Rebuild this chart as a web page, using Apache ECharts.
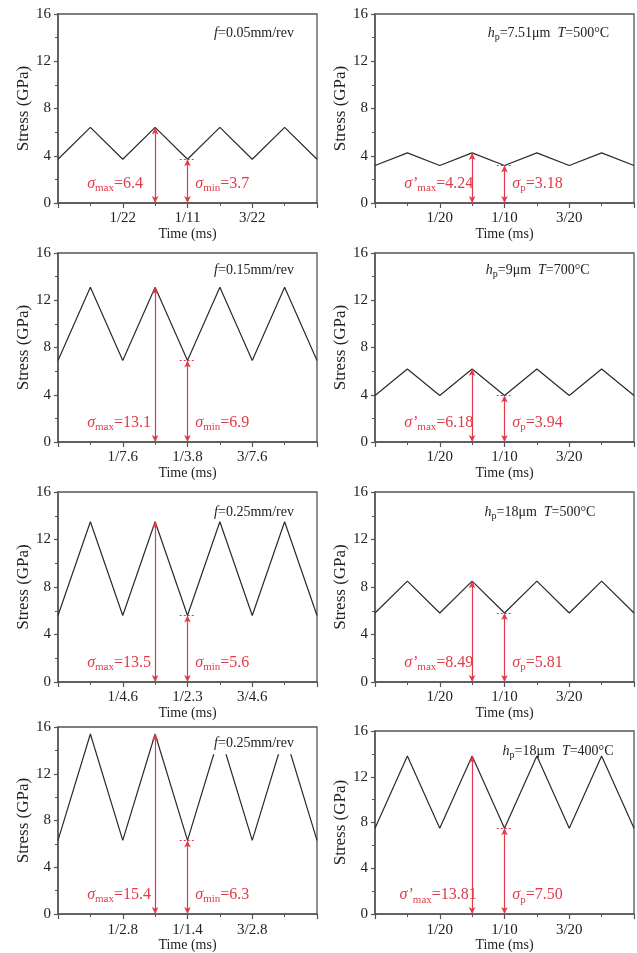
<!DOCTYPE html>
<html>
<head>
<meta charset="utf-8">
<script src="https://cdn.jsdelivr.net/npm/echarts@6/dist/echarts.min.js"></script>
<style>
  html, body { margin: 0; padding: 0; background: #fff; }
  #chart { width: 637px; height: 953px; }
</style>
</head>
<body>
<div id="chart"></div>
<script>
// Time positions of peaks and troughs, in units of the first labelled tick
const timeSteps = [0, 0.5, 1, 1.5, 2, 2.5, 3, 3.5, 4];

// Left column: feed rate f
const stressF005 = [3.7, 6.4, 3.7, 6.4, 3.7, 6.4, 3.7, 6.4, 3.7];
const stressF015 = [6.9, 13.1, 6.9, 13.1, 6.9, 13.1, 6.9, 13.1, 6.9];
const stressF025a = [5.6, 13.5, 5.6, 13.5, 5.6, 13.5, 5.6, 13.5, 5.6];
const stressF025b = [6.3, 15.4, 6.3, 15.4, 6.3, 15.4, 6.3, 15.4, 6.3];

// Right column: h_p and T
const stressH751 = [3.18, 4.24, 3.18, 4.24, 3.18, 4.24, 3.18, 4.24, 3.18];
const stressH9 = [3.94, 6.18, 3.94, 6.18, 3.94, 6.18, 3.94, 6.18, 3.94];
const stressH18a = [5.81, 8.49, 5.81, 8.49, 5.81, 8.49, 5.81, 8.49, 5.81];
const stressH18b = [7.50, 13.81, 7.50, 13.81, 7.50, 13.81, 7.50, 13.81, 7.50];

// x tick labels at 1, 2, 3
const ticksF005 = ['1/22', '1/11', '3/22'];
const ticksF015 = ['1/7.6', '1/3.8', '3/7.6'];
const ticksF025a = ['1/4.6', '1/2.3', '3/4.6'];
const ticksF025b = ['1/2.8', '1/1.4', '3/2.8'];
const ticksH = ['1/20', '1/10', '3/20'];

// values written next to the arrows
const maxTexts = ['6.4', '4.24', '13.1', '6.18', '13.5', '8.49', '15.4', '13.81'];
const minTexts = ['3.7', '3.18', '6.9', '3.94', '5.6', '5.81', '6.3', '7.50'];

// panel titles
const titlesLeft = ['0.05', '0.15', '0.25', '0.25'];
const titlesRight = [['7.51', '500'], ['9', '700'], ['18', '500'], ['18', '400']];

const panels = [
  { data: stressF005, ticks: ticksF005, side: 'L', row: 0 },
  { data: stressH751, ticks: ticksH, side: 'R', row: 0 },
  { data: stressF015, ticks: ticksF015, side: 'L', row: 1 },
  { data: stressH9, ticks: ticksH, side: 'R', row: 1 },
  { data: stressF025a, ticks: ticksF025a, side: 'L', row: 2 },
  { data: stressH18a, ticks: ticksH, side: 'R', row: 2 },
  { data: stressF025b, ticks: ticksF025b, side: 'L', row: 3 },
  { data: stressH18b, ticks: ticksH, side: 'R', row: 3 }
];

// layout
const colLeft = { L: 58, R: 375 };
const colWidth = { L: 259, R: 260 };
const rowTop = { L: [14, 253, 492, 727], R: [14, 253, 492, 731] };
const rowHeight = [189, 189, 190, 190];
const titlePos = {
  L: [[2.38, 14.4], [2.38, 14.5], [2.38, 14.3], [2.38, 14.6]],
  R: [[1.71, 14.4], [1.68, 14.5], [1.66, 14.3], [1.94, 14.2]]
};
const maxLabelX = [0.45, 0.45, 0.45, 0.45, 0.45, 0.45, 0.45, 0.38];

const RED = '#e23a48';
const AXIS = '#555';
const FONT = '"Liberation Serif", "Times New Roman", serif';

const rich = {
  s: { fontFamily: FONT, fontSize: 16, fontStyle: 'italic', color: RED, lineHeight: 20 },
  sub: { fontFamily: FONT, fontSize: 11, color: RED, verticalAlign: 'bottom', lineHeight: 10 },
  n: { fontFamily: FONT, fontSize: 16, color: RED, lineHeight: 20 },
  ti: { fontFamily: FONT, fontSize: 14, fontStyle: 'italic', color: '#222', lineHeight: 18 },
  tsub: { fontFamily: FONT, fontSize: 10, color: '#222', verticalAlign: 'bottom', lineHeight: 9 },
  tn: { fontFamily: FONT, fontSize: 14, color: '#222', lineHeight: 18 }
};

const grids = [], xAxes = [], yAxes = [], series = [];

panels.forEach((p, i) => {
  const top = rowTop[p.side][p.row];
  const height = rowHeight[p.row];
  grids.push({
    left: colLeft[p.side], top: top, width: colWidth[p.side], height: height,
    show: true, borderColor: AXIS, borderWidth: 1.3, backgroundColor: 'transparent'
  });
  xAxes.push({
    gridIndex: i, type: 'value', min: 0, max: 4, interval: 1,
    name: 'Time (ms)', nameLocation: 'middle', nameGap: 18,
    nameTextStyle: { fontFamily: FONT, fontSize: 14, color: '#222' },
    axisLine: { lineStyle: { color: AXIS, width: 1.5 } },
    axisTick: { length: 5, lineStyle: { color: AXIS, width: 1.2 } },
    minorTick: { show: true, splitNumber: 2, length: 3, lineStyle: { color: AXIS, width: 1 } },
    splitLine: { show: false },
    axisLabel: {
      fontFamily: FONT, fontSize: 15, color: '#222', margin: 8,
      formatter: v => (v >= 1 && v <= 3 ? p.ticks[v - 1] : '')
    }
  });
  yAxes.push({
    gridIndex: i, type: 'value', min: 0, max: 16, interval: 4,
    name: 'Stress (GPa)', nameLocation: 'middle', nameGap: 23,
    nameTextStyle: { fontFamily: FONT, fontSize: 17, color: '#222' },
    axisLine: { show: true, lineStyle: { color: AXIS, width: 1.5 } },
    axisTick: { show: true, length: 4, lineStyle: { color: AXIS, width: 1.2 } },
    minorTick: { show: true, splitNumber: 2, length: 3, lineStyle: { color: AXIS, width: 1 } },
    splitLine: { show: false },
    axisLabel: { fontFamily: FONT, fontSize: 15, color: '#222', margin: 7 }
  });

  const vmax = Math.max(...p.data);
  const vmin = Math.min(...p.data);
  const isLeft = p.side === 'L';
  const maxLabel = isLeft
    ? '{s|σ}{sub|max}{n|=' + maxTexts[i] + '}'
    : '{s|σ’}{sub|max}{n|=' + maxTexts[i] + '}';
  const minLabel = isLeft
    ? '{s|σ}{sub|min}{n|=' + minTexts[i] + '}'
    : '{s|σ}{sub|p}{n|=' + minTexts[i] + '}';
  let title;
  if (isLeft) {
    title = '{ti|f}{tn|=' + titlesLeft[p.row] + 'mm/rev}';
  } else {
    const t = titlesRight[p.row];
    title = '{ti|h}{tsub|p}{tn|=' + t[0] + 'μm  }{ti|T}{tn|=' + t[1] + '°C}';
  }
  const tp = titlePos[p.side][p.row];

  series.push({
    type: 'line', xAxisIndex: i, yAxisIndex: i,
    data: timeSteps.map((t, k) => [t, p.data[k]]),
    symbol: 'none', silent: true,
    lineStyle: { color: '#2a2a2a', width: 1.2 },
    markLine: {
      silent: true, animation: false,
      label: { show: false },
      data: [
        [{ coord: [1.5, 0], symbol: 'arrow', symbolSize: [5, 7] },
         { coord: [1.5, vmax], symbol: 'arrow', symbolSize: [5, 7] }],
        [{ coord: [2, 0], symbol: 'arrow', symbolSize: [5, 7] },
         { coord: [2, vmin], symbol: 'arrow', symbolSize: [5, 7] }],
        [{ coord: [1.88, vmin], symbol: 'none', lineStyle: { type: [2, 2], width: 1 } },
         { coord: [2.12, vmin], symbol: 'none' }]
      ],
      lineStyle: { color: RED, width: 1.2, type: 'solid' }
    },
    markPoint: {
      silent: true, animation: false,
      symbol: 'circle', symbolSize: 0,
      data: [
        { coord: [maxLabelX[i], 1.65], label: { show: true, position: 'right', distance: 0, formatter: maxLabel, rich: rich } },
        { coord: [2.12, 1.65], label: { show: true, position: 'right', distance: 0, formatter: minLabel, rich: rich } },
        { coord: tp, label: {
            show: true, position: 'right', distance: 0, formatter: title, rich: rich,
            backgroundColor: (p.row === 3 && isLeft) ? '#fff' : 'transparent',
            padding: [2, 2, 2, 2]
          } }
      ]
    }
  });
});

const chart = echarts.init(document.getElementById('chart'), null, { renderer: 'canvas' });
chart.setOption({
  animation: false,
  backgroundColor: '#fff',
  grid: grids,
  xAxis: xAxes,
  yAxis: yAxes,
  series: series
});
</script>
</body>
</html>
